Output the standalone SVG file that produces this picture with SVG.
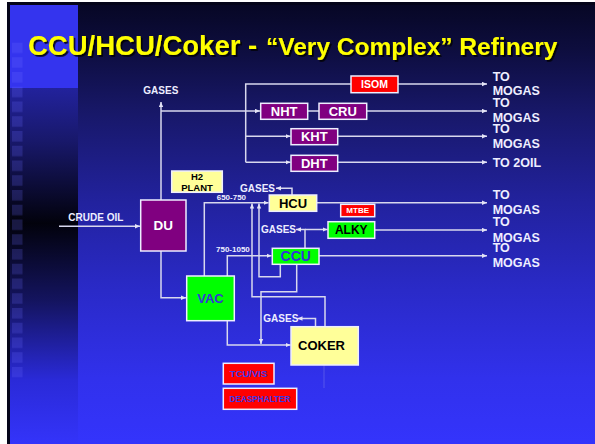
<svg xmlns="http://www.w3.org/2000/svg" width="595" height="444" viewBox="0 0 595 444">
<defs>
<linearGradient id="bgMain" x1="0" y1="0" x2="0" y2="1">
<stop offset="0" stop-color="#070725"/>
<stop offset="0.1" stop-color="#0d0d3e"/>
<stop offset="0.25" stop-color="#18186a"/>
<stop offset="0.45" stop-color="#22229e"/>
<stop offset="0.65" stop-color="#2a2ac8"/>
<stop offset="0.85" stop-color="#3131ec"/>
<stop offset="1" stop-color="#3434fc"/>
</linearGradient>
<linearGradient id="bgLeft" gradientUnits="userSpaceOnUse" x1="0" y1="88" x2="0" y2="444">
<stop offset="0" stop-color="#22229c"/>
<stop offset="0.15" stop-color="#18186a"/>
<stop offset="0.38" stop-color="#02020c"/>
<stop offset="0.6" stop-color="#141460"/>
<stop offset="0.82" stop-color="#2a2ad8"/>
<stop offset="1" stop-color="#3434fa"/>
</linearGradient>
<pattern id="sq" patternUnits="userSpaceOnUse" x="12" y="42.5" width="11" height="14.75">
<rect x="0" y="0" width="10.5" height="10.5" fill="#6a6aff" fill-opacity="0.22"/>
</pattern>
<filter id="sh" x="-5%" y="-20%" width="110%" height="150%">
<feDropShadow dx="1.8" dy="1.8" stdDeviation="0.5" flood-color="#000000" flood-opacity="0.85"/>
</filter>
<marker id="ah" markerUnits="userSpaceOnUse" markerWidth="6" markerHeight="5" refX="5" refY="2.5" orient="auto">
<path d="M0,0.3 L5,2.5 L0,4.7 z" fill="#e4e4f6"/>
</marker>
<style>
.ln{fill:none;stroke:#d8d8ee;stroke-width:1.5}
.bx{stroke:#eeeeff;stroke-width:1.5}
.t{font-family:"Liberation Sans",Arial,sans-serif;font-weight:bold}
.lb{font-family:"Liberation Sans",Arial,sans-serif;font-weight:bold;fill:#eeeeff}
.mid{text-anchor:middle}
.pur{fill:#800080}
.grn{fill:#00ff00}
.yel{fill:#ffff99}
.red{fill:#ff0000}
</style>
</defs>

<rect x="0" y="0" width="595" height="444" fill="#ffffff"/>
<rect x="7" y="2" width="588" height="442" fill="#05051a"/>
<rect x="10" y="5" width="585" height="439" fill="url(#bgMain)"/>
<rect x="10" y="88" width="68" height="356" fill="url(#bgLeft)"/>
<rect x="10" y="5" width="68" height="83" fill="#3434ee"/>
<rect x="12" y="42.5" width="11" height="335" fill="url(#sq)"/>

<g id="title" class="t" filter="url(#sh)">
<text x="28" y="55" font-size="27.5" fill="#ffff00">CCU/HCU/Coker -<tspan x="266" font-size="24.5">“Very Complex” Refinery</tspan></text>
</g>

<g id="connectors">
<polyline class="ln" points="59,226.3 140,226.3" marker-end="url(#ah)"/>
<polyline class="ln" points="161,200 161,102" marker-end="url(#ah)"/>
<polyline class="ln" points="161,111 260,111" marker-end="url(#ah)"/>
<polyline class="ln" points="351,84 245.7,84 245.7,162.3"/>
<polyline class="ln" points="245.7,136.3 290.5,136.3" marker-end="url(#ah)"/>
<polyline class="ln" points="245.7,162.3 290.5,162.3" marker-end="url(#ah)"/>
<polyline class="ln" points="307.7,111 319,111"/>
<polyline class="ln" points="398,84 487,84" marker-end="url(#ah)"/>
<polyline class="ln" points="366.7,111 487,111" marker-end="url(#ah)"/>
<polyline class="ln" points="337.7,136.3 487,136.3" marker-end="url(#ah)"/>
<polyline class="ln" points="337.7,162.3 487,162.3" marker-end="url(#ah)"/>
<polyline class="ln" points="161,251 161,297.7 186,297.7" marker-end="url(#ah)"/>
<polyline class="ln" points="204.3,276 204.3,202.7 268.5,202.7" marker-end="url(#ah)"/>
<polyline class="ln" points="227.3,276 227.3,255.7 271.5,255.7" marker-end="url(#ah)"/>
<polyline class="ln" points="292,195 292,188.3 276,188.3" marker-end="url(#ah)"/>
<polyline class="ln" points="316.7,202.7 487,202.7" marker-end="url(#ah)"/>
<polyline class="ln" points="305,248.3 305,229.5 296,229.5" marker-end="url(#ah)"/>
<polyline class="ln" points="305,229.5 327.5,229.5" marker-end="url(#ah)"/>
<polyline class="ln" points="374.7,230 487,230" marker-end="url(#ah)"/>
<polyline class="ln" points="319,255.7 487,255.7" marker-end="url(#ah)"/>
<polyline class="ln" points="280.3,264.3 280.3,276.7 259,276.7 259,203.5" marker-end="url(#ah)"/>
<polyline class="ln" points="325,326.7 325,296.7 252,296.7 252,203.5" marker-end="url(#ah)"/>
<polyline class="ln" points="296.7,264.3 296.7,291.7 261,291.7 261,344" marker-end="url(#ah)"/>
<polyline class="ln" points="227.3,320.7 227.3,345 290.5,345" marker-end="url(#ah)"/>
<polyline class="ln" points="315.5,326.7 315.5,318.5 297.5,318.5" marker-end="url(#ah)"/>
<polyline class="ln" points="324,365 324,388" stroke-opacity="0.15"/>
</g>

<g id="n-du"><rect class="bx pur" x="140.7" y="200" width="45.3" height="51"/><text class="t mid" x="163.3" y="230.3" font-size="13.5" fill="#ffffff">DU</text></g>
<g id="n-vac"><rect class="bx grn" x="186.7" y="276" width="47.6" height="44.7"/><text class="t mid" x="210.5" y="303" font-size="13" fill="#3535d8">VAC</text></g>
<g id="n-h2plant"><rect class="bx yel" x="171.7" y="171" width="50.6" height="21.3"/><text class="t mid" x="197" y="179.5" font-size="9.5" fill="#000000">H2</text><text class="t mid" x="197" y="190.5" font-size="9.5" fill="#000000">PLANT</text></g>
<g id="n-hcu"><rect class="bx yel" x="269.3" y="195" width="47.4" height="16.3"/><text class="t mid" x="293" y="207.9" font-size="13" fill="#000000">HCU</text></g>
<g id="n-ccu"><rect class="bx grn" x="272.3" y="248.3" width="46.7" height="16"/><text class="t mid" x="295.7" y="261.3" font-size="14" fill="#3333dd">CCU</text></g>
<g id="n-alky"><rect class="bx grn" x="328" y="221.7" width="46.7" height="16.6"/><text class="t mid" x="351.3" y="234.3" font-size="12" fill="#000000">ALKY</text></g>
<g id="n-mtbe"><rect class="bx red" x="340.7" y="204.3" width="34" height="12.4"/><text class="t mid" x="357.7" y="213.4" font-size="8" fill="#ffffff">MTBE</text></g>
<g id="n-coker"><rect class="bx yel" x="291" y="326.7" width="67.3" height="38.3"/><text class="t mid" x="321.5" y="349.5" font-size="13" fill="#000000">COKER</text></g>
<g id="n-nht"><rect class="bx pur" x="260.7" y="103.3" width="47" height="16"/><text class="t mid" x="284.2" y="116" font-size="13" fill="#ffffff">NHT</text></g>
<g id="n-cru"><rect class="bx pur" x="319" y="103.3" width="47.7" height="16"/><text class="t mid" x="342.8" y="116" font-size="13" fill="#ffffff">CRU</text></g>
<g id="n-kht"><rect class="bx pur" x="291" y="128.7" width="46.7" height="16"/><text class="t mid" x="314.3" y="141.4" font-size="13" fill="#ffffff">KHT</text></g>
<g id="n-dht"><rect class="bx pur" x="291" y="155.3" width="46.7" height="16"/><text class="t mid" x="314.3" y="168" font-size="13" fill="#ffffff">DHT</text></g>
<g id="n-isom"><rect class="bx red" x="351" y="76" width="47" height="16.7"/><text class="t mid" x="374.5" y="88.1" font-size="10.5" fill="#ffffff">ISOM</text></g>
<g id="n-tcuvis"><rect class="bx red" x="223.3" y="363.3" width="50.7" height="20.7"/><text class="t mid" x="248.6" y="377.3" font-size="9.5" fill="#3a3ae8">TCU/VIS</text></g>
<g id="n-deasphalter"><rect class="bx red" x="223.3" y="388.3" width="73.4" height="21"/><text class="t mid" x="260" y="401.7" font-size="8.2" fill="#3a3ae8">DEASPHALTER</text></g>

<g id="labels" class="lb">
<text x="143.3" y="94" font-size="10">GASES</text>
<text x="240" y="191.5" font-size="10">GASES</text>
<text x="261" y="232.8" font-size="10">GASES</text>
<text x="263.3" y="322" font-size="10">GASES</text>
<text x="68.3" y="221" font-size="10">CRUDE OIL</text>
<text x="216.7" y="200" font-size="8">650-750</text>
<text x="216" y="252.3" font-size="8">750-1050</text>
<text x="492.7" y="80.7" font-size="12.5">TO</text>
<text x="492.7" y="95" font-size="12.5">MOGAS</text>
<text x="492.7" y="106.7" font-size="12.5">TO</text>
<text x="492.7" y="122" font-size="12.5">MOGAS</text>
<text x="492.7" y="133.3" font-size="12.5">TO</text>
<text x="492.7" y="148" font-size="12.5">MOGAS</text>
<text x="492.7" y="167.3" font-size="12.5">TO 2OIL</text>
<text x="492.7" y="199" font-size="12.5">TO</text>
<text x="492.7" y="214.3" font-size="12.5">MOGAS</text>
<text x="492.7" y="225.7" font-size="12.5">TO</text>
<text x="492.7" y="241.7" font-size="12.5">MOGAS</text>
<text x="492.7" y="251.7" font-size="12.5">TO</text>
<text x="492.7" y="267.3" font-size="12.5">MOGAS</text>
</g>
</svg>
